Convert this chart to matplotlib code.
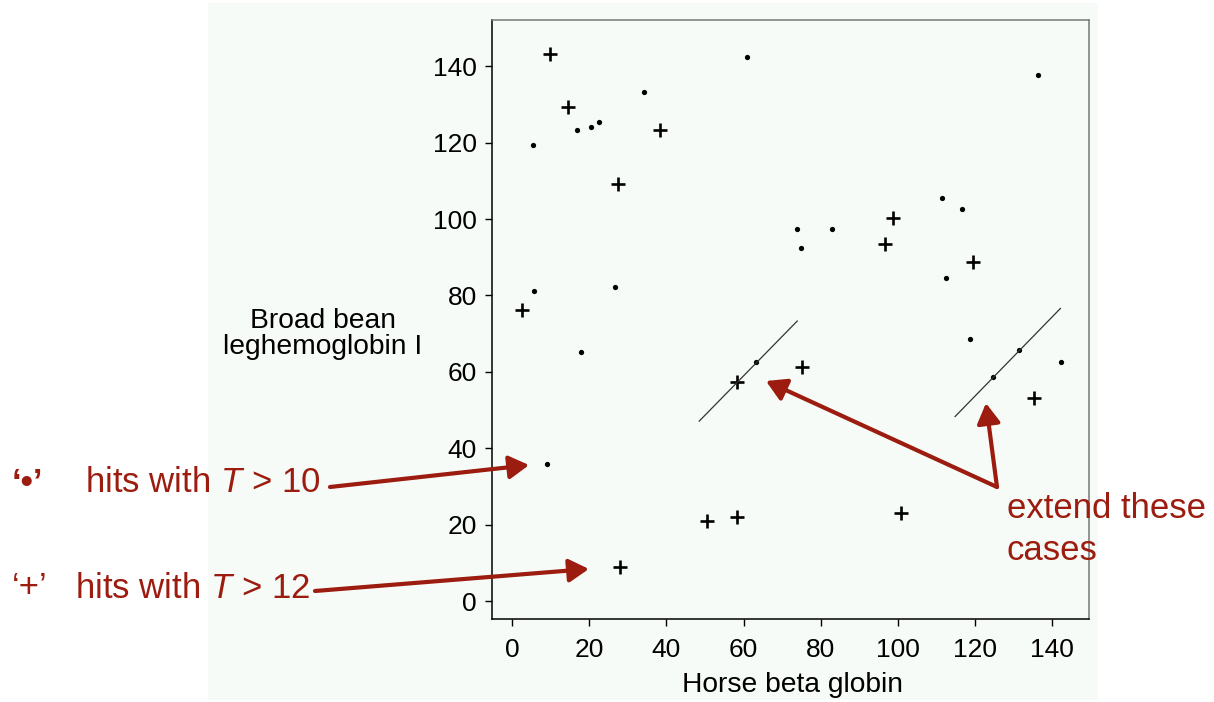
import matplotlib
matplotlib.use('Agg')
import matplotlib.pyplot as plt
from matplotlib.patches import Rectangle

plt.rcParams['font.family'] = ['Liberation Sans', 'DejaVu Sans']
plt.rcParams['mathtext.fontset'] = 'custom'
plt.rcParams['mathtext.rm'] = 'Liberation Sans'
plt.rcParams['mathtext.it'] = 'Liberation Sans:italic'

# hits with T > 10 (dots)
dot_x = [5.4, 16.7, 20.5, 22.5, 34.3, 60.8, 136.2, 111.4, 5.6, 26.6, 17.9, 9.0,
         73.9, 74.9, 82.8, 116.5, 112.5, 118.6, 131.4, 124.6, 142.3, 63.1]
dot_y = [119.3, 123.3, 124.2, 125.3, 133.2, 142.3, 137.7, 105.6, 81.2, 82.1, 65.3, 36.0,
         97.3, 92.3, 97.4, 102.6, 84.6, 68.7, 65.6, 58.7, 62.7, 62.5]

# hits with T > 12 (plus signs)
plus_x = [9.7, 14.6, 38.3, 27.5, 2.7, 98.8, 96.7, 119.4, 135.3, 58.4, 75.1, 27.9, 50.5, 58.4, 100.9]
plus_y = [143.1, 129.2, 123.3, 109.2, 76.2, 100.4, 93.4, 88.7, 53.1, 57.4, 61.3, 8.8, 20.9, 21.9, 23.0]

# diagonals that should be extended
diag_x = [[48.5, 73.9], [114.8, 142.1]]
diag_y = [[47.1, 73.3], [48.3, 76.6]]

ticks = [0, 20, 40, 60, 80, 100, 120, 140]

red = '#9c1c10'
tint = '#f7fbf8'

W, H = 1214, 702


def px(x, y):
    # figure pixel (top-left origin) -> figure fraction
    return x / W, 1 - y / H


fig = plt.figure(figsize=(12.14, 7.02), dpi=100)
fig.patch.set_facecolor('white')
fig.patches.append(Rectangle(px(208, 700), 890 / W, 697 / H, transform=fig.transFigure,
                             facecolor=tint, edgecolor='none', zorder=-5))

ax = fig.add_axes([492 / W, 1 - 619 / H, 597 / W, 599 / H])
ax.set_facecolor(tint)

ax.plot(dot_x, dot_y, 'o', color='black', markersize=3.8, markeredgewidth=0)
ax.plot(plus_x, plus_y, '+', color='black', markersize=10, markeredgewidth=1.9)
for xs, ys in zip(diag_x, diag_y):
    ax.plot(xs, ys, color='#333333', lw=0.9)

ax.set_xlim(-5.2, 149.5)
ax.set_ylim(-4.7, 152.1)
ax.set_xticks(ticks)
ax.set_yticks(ticks)
ax.tick_params(direction='out', length=5, width=1, labelsize=19, pad=6)
ax.tick_params(axis='x', pad=9)
for s in ax.spines.values():
    s.set_linewidth(1.1)
for s in ['top', 'right']:
    ax.spines[s].set_color('#777777')

fig.text(*px(793, 685), 'Horse beta globin', fontsize=20.3, ha='center', va='center')
fig.text(*px(323, 334), 'Broad bean\nleghemoglobin I', fontsize=20.3, ha='center', va='center',
         linespacing=0.95)

# annotation text
fig.text(*px(12, 483), '\u2018\u2022\u2019', fontsize=25, color=red, fontweight='bold',
         ha='left', va='center')
fig.text(*px(85, 483), 'hits with $T$ > 10', fontsize=25, color=red, ha='left', va='center')
fig.text(*px(12, 588), '\u2018+\u2019', fontsize=25, color=red, ha='left', va='center')
fig.text(*px(75, 588), 'hits with $T$ > 12', fontsize=25, color=red, ha='left', va='center')
fig.text(*px(1007, 509), 'extend these', fontsize=25, color=red, ha='left', va='center')
fig.text(*px(1007, 550), 'cases', fontsize=25, color=red, ha='left', va='center')

arrow = dict(arrowstyle='-|>,head_length=1.2,head_width=0.7', lw=3, color=red,
             shrinkA=0, shrinkB=0)
ax.annotate('', xy=(4.4, 35.6), xytext=px(330, 487), textcoords='figure fraction',
            arrowprops=arrow, annotation_clip=False)
ax.annotate('', xy=(19.9, 8.4), xytext=px(315, 591), textcoords='figure fraction',
            arrowprops=arrow, annotation_clip=False)
ax.annotate('', xy=(65.8, 57.6), xytext=px(997, 487), textcoords='figure fraction',
            arrowprops=arrow, annotation_clip=False)
ax.annotate('', xy=(122.8, 51.8), xytext=px(997, 487), textcoords='figure fraction',
            arrowprops=arrow, annotation_clip=False)

fig.savefig('out.png', dpi=100)
